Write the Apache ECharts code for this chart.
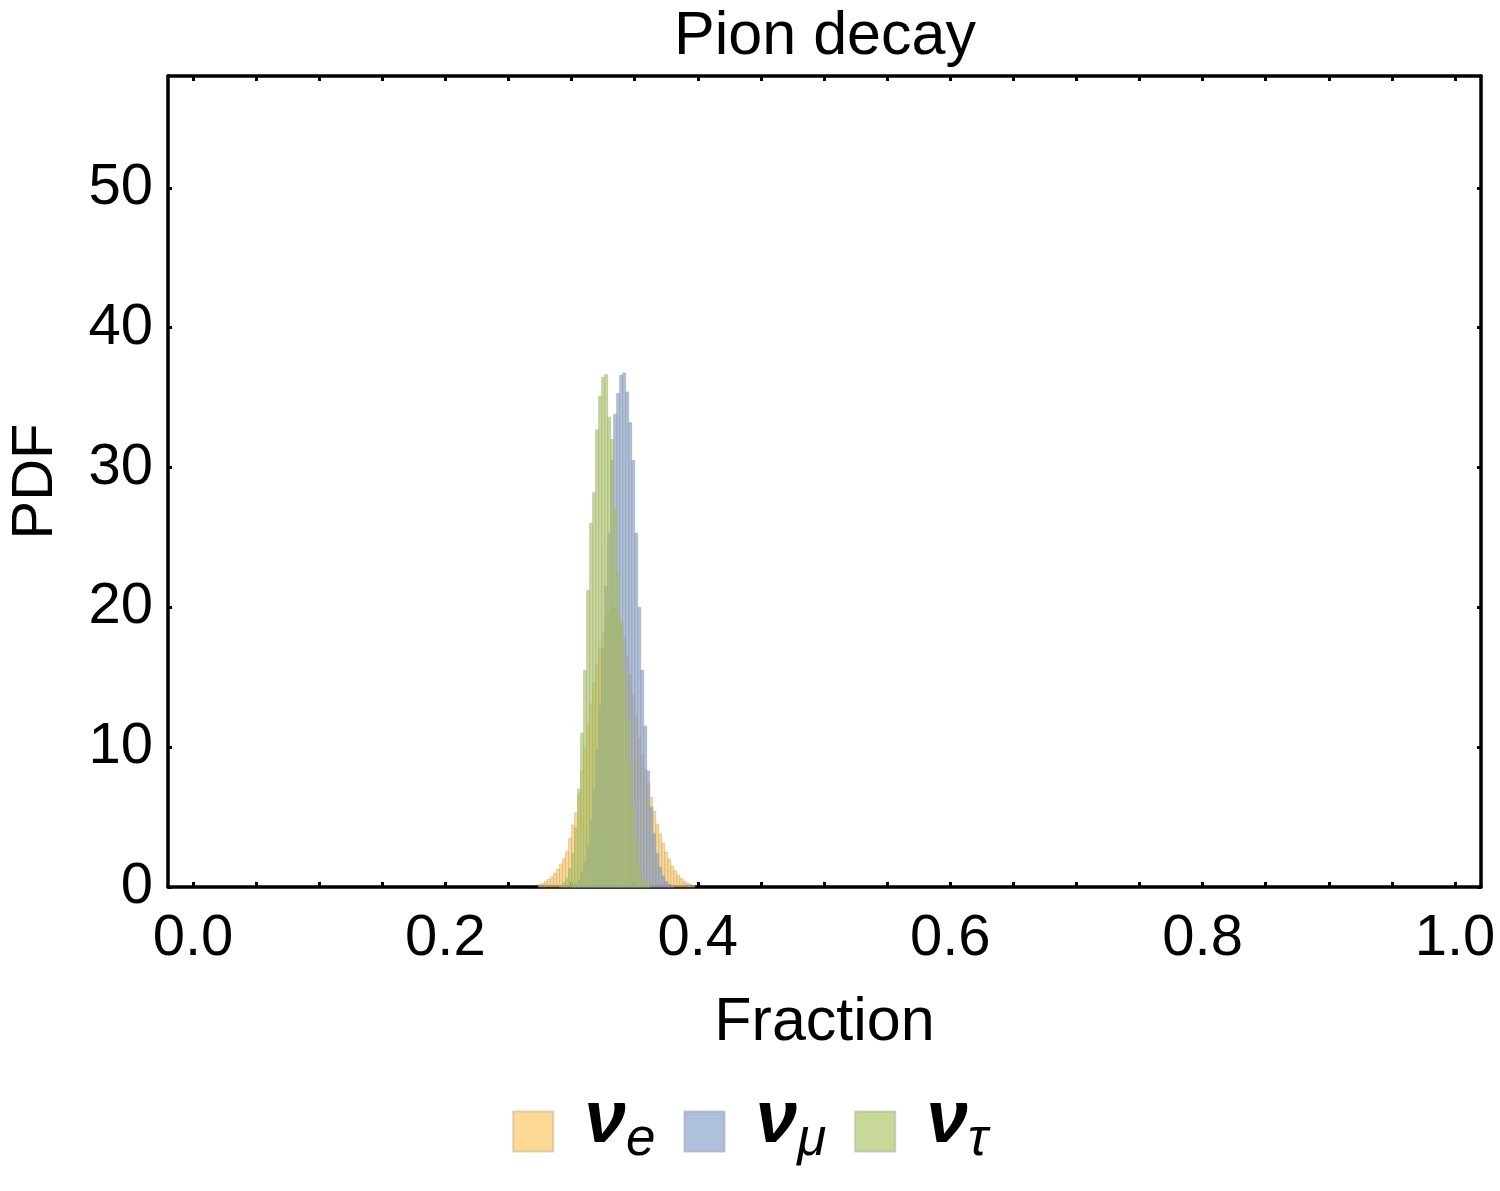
<!DOCTYPE html>
<html>
<head>
<meta charset="utf-8">
<script src="https://cdn.jsdelivr.net/npm/echarts@6/dist/echarts.min.js"></script>
<style>
html,body{margin:0;padding:0;background:#fff;}
#chart{width:1500px;height:1191px;}
</style>
</head>
<body>
<div id="chart"></div>
<script>
// Histogram bin width (fraction units) and the left edge of each series' first bin
const binWidth = 1 / 420;
const nuEStart = 115 / 420;
const nuMuStart = 126 / 420;
const nuTauStart = 122 / 420;

// PDF values per bin
const nuEValues = [0.17, 0.26, 0.40, 0.55, 0.74, 0.98, 1.26, 1.64, 2.02, 2.52,
  3.48, 4.43, 5.3, 6.6, 8.3, 9.9, 11.6, 13.1, 14.6, 15.9,
  17.1, 18.2, 19.0, 19.6, 20.0, 19.9, 19.5, 18.8, 17.8, 16.5,
  15.2, 13.7, 12.2, 10.6, 9.4, 8.4, 7.4, 6.4, 5.4, 4.5,
  3.8, 3.1, 2.5, 2.0, 1.5, 1.15, 0.85, 0.6, 0.42, 0.28,
  0.18, 0.1];
const nuMuValues = [0.1, 0.22, 0.5, 1.0, 1.8, 3.0, 4.8, 7.0, 9.8, 13.0,
  17.0, 21.5, 25.3, 30.5, 33.8, 35.3, 36.6, 36.76, 35.4, 33.2,
  30.5, 25.3, 20.0, 15.5, 11.5, 8.3, 5.7, 3.8, 2.4, 1.4,
  0.8, 0.4, 0.18, 0.08];
const nuTauValues = [0.12, 0.3, 0.65, 1.3, 2.4, 4.2, 7.0, 11.0, 15.5, 21.2,
  26.0, 28.2, 32.7, 35.1, 36.45, 36.64, 33.6, 32.0, 27.0, 22.5,
  19.0, 15.5, 12.0, 8.8, 5.9, 3.2, 1.5, 0.6, 0.25, 0.1];

// Axis ticks and labels
const xLabelValues = [0.0, 0.2, 0.4, 0.6, 0.8, 1.0];
const xTickValues = [0, 0.05, 0.1, 0.15, 0.2, 0.25, 0.3, 0.35, 0.4, 0.45, 0.5,
  0.55, 0.6, 0.65, 0.7, 0.75, 0.8, 0.85, 0.9, 0.95, 1.0];
const yLabelValues = [0, 10, 20, 30, 40, 50];

const seriesNames = ['ve', 'vmu', 'vtau'];
const seriesSub = {ve: 'e', vmu: 'μ', vtau: 'τ'};

const FONT = "'Liberation Sans', Arial, Helvetica, sans-serif";

function toData(start, values) {
  return values.map((v, i) => [start + i * binWidth, v]);
}

const fills = {
  ve: 'rgba(250,192,77,0.6)',
  vmu: 'rgba(122,150,193,0.6)',
  vtau: 'rgba(163,190,83,0.6)'
};
const edges = {
  ve: 'rgba(205,175,130,0.55)',
  vmu: 'rgba(150,160,180,0.55)',
  vtau: 'rgba(170,180,140,0.55)'
};

function makeSeries(name, start, values) {
  return {
    name: name,
    type: 'custom',
    xAxisIndex: 0,
    yAxisIndex: 0,
    data: toData(start, values),
    encode: {x: 0, y: 1},
    itemStyle: {color: fills[name]},
    renderItem: function (params, api) {
      const x0 = api.value(0);
      const h = api.value(1);
      const p0 = api.coord([x0, h]);
      const p1 = api.coord([x0 + binWidth, 0]);
      return {
        type: 'rect',
        shape: {x: p0[0], y: p0[1], width: p1[0] - p0[0], height: p1[1] - p0[1]},
        style: {fill: fills[name], stroke: edges[name], lineWidth: 1}
      };
    }
  };
}

const chart = echarts.init(document.getElementById('chart'), null, {renderer: 'canvas'});

const axisLineStyle = {color: '#000', width: 3.5};
const tickStyle = {color: '#000', width: 3};

const option = {
  backgroundColor: '#fff',
  animation: false,
  title: {
    text: 'Pion decay',
    left: 820,
    top: 2,
    textAlign: 'center',
    textStyle: {fontFamily: FONT, fontSize: 61, fontWeight: 'normal', color: '#000'}
  },
  legend: {
    left: 'center',
    top: 1079,
    itemWidth: 40,
    itemHeight: 40,
    itemGap: 28,
    icon: 'rect',
    data: seriesNames.map(n => ({
      name: n,
      itemStyle: {color: fills[n], borderColor: edges[n], borderWidth: 2}
    })),
    formatter: function (name) {
      return '{n|ν}{s|' + seriesSub[name] + '}';
    },
    textStyle: {
      fontFamily: FONT,
      color: '#000',
      rich: {
        n: {fontFamily: FONT, fontSize: 75, lineHeight: 75, fontWeight: 'bold', fontStyle: 'italic', color: '#000', padding: [0, 0, 20, 26]},
        s: {fontFamily: FONT, fontSize: 53, lineHeight: 53, fontStyle: 'italic', color: '#000', padding: [18, 0, 0, 0]}
      }
    }
  },
  grid: {left: 168, right: 19, top: 76, bottom: 304, containLabel: false, outerBoundsMode: 'none'},
  xAxis: [
    {
      type: 'value',
      min: -0.0198,
      max: 1.0206,
      position: 'bottom',
      name: 'Fraction',
      nameLocation: 'middle',
      nameGap: 106,
      nameTextStyle: {fontFamily: FONT, fontSize: 61, color: '#000'},
      axisLine: {show: true, onZero: false, lineStyle: axisLineStyle},
      axisTick: {show: true, inside: true, length: 5, customValues: xTickValues, lineStyle: tickStyle},
      axisLabel: {
        show: true,
        customValues: xLabelValues,
        formatter: v => Number(v).toFixed(1),
        fontFamily: FONT, fontSize: 58, color: '#000', margin: 23
      },
      splitLine: {show: false}
    },
    {
      type: 'value',
      min: -0.0198,
      max: 1.0206,
      position: 'top',
      axisLine: {show: true, onZero: false, lineStyle: axisLineStyle},
      axisTick: {show: true, inside: true, length: 5, customValues: xTickValues, lineStyle: tickStyle},
      axisLabel: {show: false},
      splitLine: {show: false}
    }
  ],
  yAxis: [
    {
      type: 'value',
      min: 0,
      max: 58,
      position: 'left',
      name: 'PDF',
      nameLocation: 'middle',
      nameGap: 103,
      nameRotate: 90,
      nameTextStyle: {fontFamily: FONT, fontSize: 58, color: '#000'},
      axisLine: {show: true, onZero: false, lineStyle: axisLineStyle},
      axisTick: {show: true, inside: true, length: 4, customValues: yLabelValues, lineStyle: tickStyle},
      axisLabel: {
        show: true,
        customValues: yLabelValues,
        fontFamily: FONT, fontSize: 58, color: '#000', margin: 15
      },
      splitLine: {show: false}
    },
    {
      type: 'value',
      min: 0,
      max: 58,
      position: 'right',
      axisLine: {show: true, onZero: false, lineStyle: axisLineStyle},
      axisTick: {show: true, inside: true, length: 4, customValues: yLabelValues, lineStyle: tickStyle},
      axisLabel: {show: false},
      splitLine: {show: false}
    }
  ],
  series: [
    makeSeries('ve', nuEStart, nuEValues),
    makeSeries('vmu', nuMuStart, nuMuValues),
    makeSeries('vtau', nuTauStart, nuTauValues)
  ]
};

chart.setOption(option);
</script>
</body>
</html>
